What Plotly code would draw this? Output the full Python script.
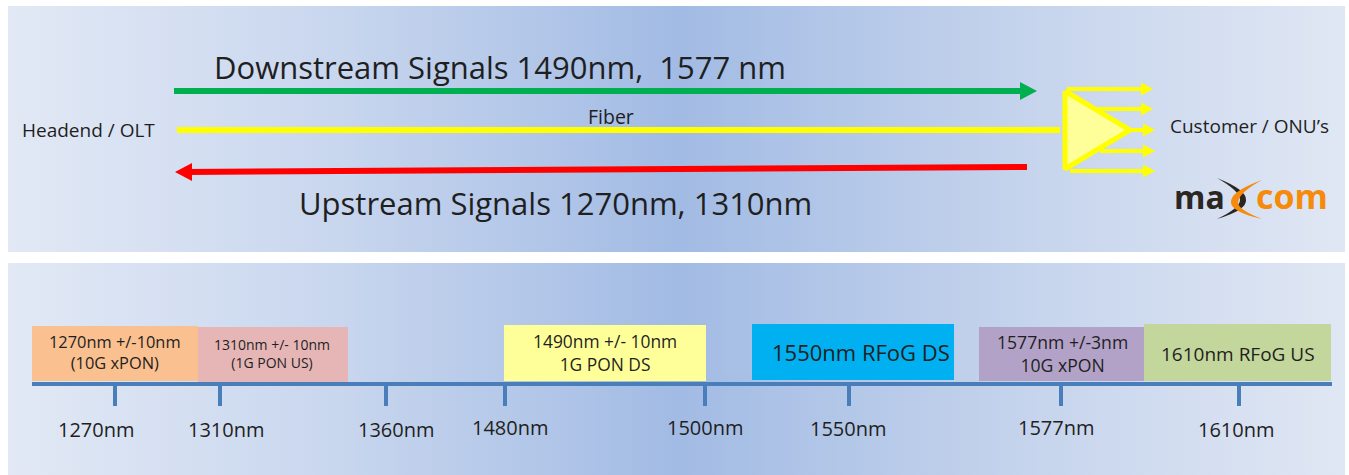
import plotly.graph_objects as go

FONT = "Open Sans"
DARK = "#1f1f1f"

# --- top panel content ---
link_names = ["Downstream", "Fiber", "Upstream"]
link_colors = ["#00b050", "#ffff00", "#ff0000"]
link_x = [[174, 1037], [177, 1060], [1027, 175]]
link_y = [[91, 91], [130, 130], [167, 172]]
link_heads = [True, False, True]

split_x = [[1067, 1153], [1098, 1153], [1128, 1155], [1100, 1155], [1070, 1155]]
split_y = [[89, 89], [109, 109], [130, 130], [151, 151], [171, 171]]

# --- bottom panel content ---
tick_labels = ["1270nm", "1310nm", "1360nm", "1480nm", "1500nm", "1550nm", "1577nm", "1610nm"]
tick_pos = [115, 220, 386, 505, 705, 849, 1061, 1239]
tick_label_x = [96, 226, 396, 510, 705, 848, 1056, 1236]
tick_label_y = [429, 429, 429, 427, 427, 428, 427, 429]

band_labels = ["1270nm +/-10nm<br>(10G xPON)", "1310nm +/- 10nm<br>(1G PON US)", "1490nm +/- 10nm<br>1G PON DS",
               "1550nm RFoG DS", "1577nm +/-3nm<br>10G xPON", "1610nm RFoG US"]
band_x0 = [32, 198, 504, 752, 979, 1144]
band_x1 = [198, 348, 706, 954, 1144, 1331]
band_y0 = [326, 327, 325, 324, 327, 324]
band_y1 = [381, 382, 381, 380, 381, 381]
band_label_x = [115, 272, 605, 861, 1062, 1238]
band_label_y = [352, 353, 352, 352, 353, 354]
band_colors = ["#fac090", "#e6b6b6", "#ffff99", "#00b0f0", "#b3a2c7", "#c3d69b"]
band_sizes = [16.4, 14, 17.4, 22, 17.6, 19]

panel_x = [[8, 1345], [8, 1345]]
panel_y = [[6, 252], [263, 475]]
gradient = [[0, "#e2e9f5"], [0.25, "#c8d6ee"], [0.5, "#a2bbe4"], [0.75, "#c4d3ec"], [1, "#e0e7f4"]]

fig = go.Figure()


def head(tip_x, tip_y, direction, length, half, color):
    fig.add_trace(go.Scatter(x=[tip_x, tip_x - direction * length, tip_x - direction * length, tip_x],
                             y=[tip_y, tip_y - half, tip_y + half, tip_y],
                             mode="lines", line=dict(width=0), fill="toself", fillcolor=color,
                             hoverinfo="skip", showlegend=False))


# gradient panels
for px, py in zip(panel_x, panel_y):
    fig.add_trace(go.Scatter(x=[px[0], px[1], px[1], px[0], px[0]], y=[py[0], py[0], py[1], py[1], py[0]],
                             mode="lines", line=dict(width=0), fill="toself",
                             fillgradient=dict(type="horizontal", colorscale=gradient),
                             hoverinfo="skip", showlegend=False))

# main links
for name, c, lx, ly, has_head in zip(link_names, link_colors, link_x, link_y, link_heads):
    d = 1 if lx[1] > lx[0] else -1
    end = lx[1] - d * 10 if has_head else lx[1]
    fig.add_trace(go.Scatter(x=[lx[0], end], y=ly, name=name, mode="lines",
                             line=dict(color=c, width=6), showlegend=False))
    if has_head:
        head(lx[1], ly[1], d, 17, 9, c)

# splitter outputs
for sx, sy in zip(split_x, split_y):
    fig.add_trace(go.Scatter(x=[sx[0], sx[1] - 8], y=sy, mode="lines", line=dict(color="#ffff00", width=4),
                             showlegend=False))
    head(sx[1], sy[1], 1, 12, 6.5, "#ffff00")

# splitter triangle
fig.add_trace(go.Scatter(x=[1065, 1130, 1065, 1065], y=[91, 130, 169, 91], mode="lines", fill="toself",
                         fillcolor="#ffff99", line=dict(color="#ffff00", width=5), showlegend=False))

# bands
for x0, x1, y0, y1, c in zip(band_x0, band_x1, band_y0, band_y1, band_colors):
    fig.add_shape(type="rect", x0=x0, x1=x1, y0=y0, y1=y1, fillcolor=c, line=dict(width=0), layer="above")

# axis line and ticks
fig.add_trace(go.Scatter(x=[32, 1332], y=[384, 384], mode="lines", line=dict(color="#4a7ebb", width=4), showlegend=False))
for t in tick_pos:
    fig.add_trace(go.Scatter(x=[t, t], y=[384, 406], mode="lines", line=dict(color="#4a7ebb", width=4), showlegend=False))

# logo swooshes
fig.add_shape(type="path", path="M1217,178 Q1247,190 1246,200 Q1247,210 1217,219 Q1240,208 1240,200 Q1240,191 1217,178 Z",
              fillcolor="#2b2622", line=dict(width=0))
fig.add_shape(type="path", path="M1262,180 Q1229,192 1231,203 Q1232,212 1262,219 Q1239,210 1238,203 Q1238,193 1262,180 Z",
              fillcolor="#f58a0b", line=dict(width=0))


def txt(x, y, s, size, color=DARK, anchor="center", family=FONT):
    fig.add_annotation(x=x, y=y, text=s, showarrow=False, xanchor=anchor, yanchor="middle",
                       font=dict(family=family, size=size, color=color), align="center")


txt(500, 67, "Downstream Signals 1490nm,  1577 nm", 31)
txt(555, 203, "Upstream Signals 1270nm, 1310nm", 31)
txt(611, 116, "Fiber", 19.5)
txt(88, 130, "Headend / OLT", 19)
txt(1249, 126, "Customer / ONU’s", 19)
txt(1199, 196, "<b>ma</b>", 32, color="#2b2622")
txt(1291.5, 196, "<b>com</b>", 34, color="#f58a0b")

for s, x, y, fs in zip(band_labels, band_label_x, band_label_y, band_sizes):
    txt(x, y, s, fs)
for s, x, y in zip(tick_labels, tick_label_x, tick_label_y):
    txt(x, y, s, 20)

fig.update_layout(width=1349, height=475, margin=dict(l=0, r=0, t=0, b=0), autosize=False,
                  paper_bgcolor="#ffffff", plot_bgcolor="#ffffff", showlegend=False,
                  xaxis=dict(range=[0, 1349], visible=False, fixedrange=True),
                  yaxis=dict(range=[475, 0], visible=False, fixedrange=True))
fig.write_html("out.html", post_script="document.body.style.margin='0';document.body.style.overflow='hidden';",
               config={"displayModeBar": False})
